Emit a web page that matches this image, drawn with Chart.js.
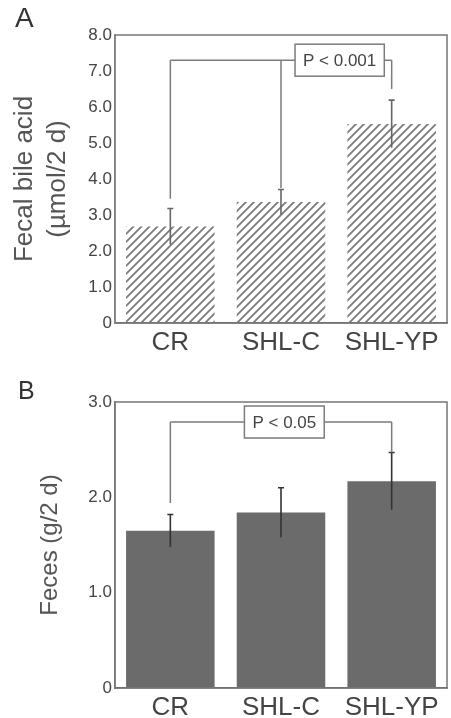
<!DOCTYPE html>
<html>
<head>
<meta charset="utf-8">
<script src="https://cdn.jsdelivr.net/npm/chart.js@4.4.1/dist/chart.umd.min.js"></script>
<style>
  body { margin: 0; background: #fff; }
  .panel { position: absolute; left: 0; width: 451px; }
  .letter { position: absolute; font-family: "Liberation Sans", Arial, sans-serif; color: #333; }
</style>
</head>
<body>
<div class="panel" style="top:0; height:360px;"><canvas id="bileChart"></canvas></div>
<div class="panel" style="top:360px; height:358px;"><canvas id="fecesChart"></canvas></div>
<div class="letter" style="left:15px; top:2px; font-size:28px;">A</div>
<div class="letter" style="left:18px; top:376px; font-size:25px;">B</div>

<script>
// groupes et valeurs (moyenne, écart-type)
const groups = ['CR', 'SHL-C', 'SHL-YP'];
const bileAcid = [2.68, 3.36, 5.53];
const bileAcidSD = [0.5, 0.35, 0.66];
const feces = [1.65, 1.84, 2.17];
const fecesSD = [0.17, 0.26, 0.3];

// graduations de l'axe Y
const bileTicks = [0, 1, 2, 3, 4, 5, 6, 7, 8];
const fecesTicks = [0, 1, 2, 3];

// accolades de significativité : hauteur, bas des jambes (null = pas de jambe), libellé
const bileBracketY = 7.3;
const bileBracketLegs = [3.45, 3.75, 6.5];
const bileBracketLabel = 'P < 0.001';
const fecesBracketY = 2.79;
const fecesBracketLegs = [1.94, null, 2.47];
const fecesBracketLabel = 'P < 0.05';

const FONT = '"Liberation Sans", Arial, sans-serif';

// motif hachuré pour les barres du graphique A
function makeHatch() {
    const c = document.createElement('canvas');
    c.width = 8; c.height = 8;
    const g = c.getContext('2d');
    g.strokeStyle = '#7a7a7a';
    g.lineWidth = 1.8;
    g.beginPath();
    g.moveTo(-2, 10); g.lineTo(10, -2);
    g.moveTo(-6, 6); g.lineTo(6, -6);
    g.moveTo(2, 14); g.lineTo(14, 2);
    g.stroke();
    return g.createPattern(c, 'repeat');
}

// cadre, barres d'erreur et accolade P
const annotations = {
    id: 'annotations',
    afterDatasetsDraw(chart, args, opts) {
        const ctx = chart.ctx;
        const area = chart.chartArea;
        const x = chart.scales.x;
        const y = chart.scales.y;
        const meta = chart.getDatasetMeta(0);
        ctx.save();

        // cadre complet
        ctx.strokeStyle = '#777';
        ctx.lineWidth = 1.5;
        ctx.strokeRect(area.left, area.top, area.right - area.left, area.bottom - area.top);

        // barres d'erreur
        ctx.strokeStyle = opts.errorColor;
        ctx.lineWidth = 1.6;
        meta.data.forEach((bar, i) => {
            const v = opts.values[i], sd = opts.sd[i];
            const yTop = y.getPixelForValue(v + sd);
            const yBot = y.getPixelForValue(v - sd);
            ctx.beginPath();
            ctx.moveTo(bar.x, yTop); ctx.lineTo(bar.x, yBot);
            ctx.moveTo(bar.x - 3, yTop); ctx.lineTo(bar.x + 3, yTop);
            ctx.stroke();
        });

        // accolade
        const by = y.getPixelForValue(opts.bracketY);
        const legs = opts.legs;
        const xs = meta.data.map(b => b.x);
        ctx.strokeStyle = '#7c7c7c';
        ctx.lineWidth = 1.5;
        ctx.beginPath();
        legs.forEach((end, i) => {
            if (end === null) return;
            ctx.moveTo(xs[i], by);
            ctx.lineTo(xs[i], y.getPixelForValue(end));
        });
        ctx.font = '17px ' + FONT;
        const tw = ctx.measureText(opts.label).width;
        const bx = x.getPixelForValue(opts.labelAt);
        const bw = tw + 16, bh = 32;
        ctx.moveTo(xs[0], by); ctx.lineTo(bx - bw / 2, by);
        ctx.moveTo(bx + bw / 2, by); ctx.lineTo(xs[2], by);
        ctx.stroke();
        ctx.fillStyle = '#fff';
        ctx.fillRect(bx - bw / 2, by - bh / 2, bw, bh);
        ctx.strokeRect(bx - bw / 2, by - bh / 2, bw, bh);
        ctx.fillStyle = '#444';
        ctx.textAlign = 'center';
        ctx.textBaseline = 'middle';
        ctx.fillText(opts.label, bx, by + 1);
        ctx.restore();
    }
};

function buildChart(canvasId, cfg) {
    return new Chart(document.getElementById(canvasId), {
        type: 'bar',
        data: {
            labels: groups,
            datasets: [{
                data: cfg.values,
                backgroundColor: cfg.fill,
                borderWidth: 0,
                categoryPercentage: 1,
                barPercentage: 0.8
            }]
        },
        options: {
            responsive: true,
            maintainAspectRatio: false,
            animation: false,
            layout: { padding: { top: cfg.top, right: 4, left: 0, bottom: 0 } },
            plugins: {
                legend: { display: false },
                tooltip: { enabled: false },
                annotations: {
                    values: cfg.values,
                    sd: cfg.sd,
                    errorColor: cfg.errorColor,
                    bracketY: cfg.bracketY,
                    legs: cfg.legs,
                    label: cfg.label,
                    labelAt: cfg.labelAt
                }
            },
            scales: {
                x: {
                    grid: { display: false, drawTicks: false },
                    border: { color: '#666', width: 1.5 },
                    ticks: { color: '#444', font: { family: FONT, size: 26 }, padding: 4, maxRotation: 0 },
                    afterFit: s => { s.height = cfg.xHeight; }
                },
                y: {
                    min: 0,
                    max: cfg.ticks[cfg.ticks.length - 1],
                    afterBuildTicks: s => { s.ticks = cfg.ticks.map(v => ({ value: v })); },
                    grid: { display: false, drawTicks: false },
                    border: { color: cfg.yAxisColor, width: 1.5 },
                    ticks: {
                        color: '#444',
                        font: { family: FONT, size: 17 },
                        padding: 3,
                        callback: v => v === 0 ? '0' : v.toFixed(1)
                    },
                    title: {
                        display: true,
                        text: cfg.title,
                        color: '#555',
                        font: { family: FONT, size: cfg.titleSize, lineHeight: 1.27 },
                        padding: { top: cfg.titlePad, bottom: 0 }
                    },
                    afterFit: s => { s.width = 115; }
                }
            }
        },
        plugins: [annotations]
    });
}

buildChart('bileChart', {
    values: bileAcid,
    sd: bileAcidSD,
    fill: makeHatch(),
    errorColor: '#666',
    yAxisColor: '#aaa',
    ticks: bileTicks,
    title: ['Fecal bile acid', '(\u00b5mol/2 d)'],
    titleSize: 26,
    titlePad: 8,
    top: 35,
    xHeight: 37,
    bracketY: bileBracketY,
    legs: bileBracketLegs,
    label: bileBracketLabel,
    labelAt: 1.53
});

buildChart('fecesChart', {
    values: feces,
    sd: fecesSD,
    fill: '#6b6b6b',
    errorColor: '#333',
    yAxisColor: '#777',
    ticks: fecesTicks,
    title: 'Feces (g/2 d)',
    titleSize: 24,
    titlePad: 35,
    top: 42,
    xHeight: 30,
    bracketY: fecesBracketY,
    legs: fecesBracketLegs,
    label: fecesBracketLabel,
    labelAt: 1.03
});
</script>
</body>
</html>
